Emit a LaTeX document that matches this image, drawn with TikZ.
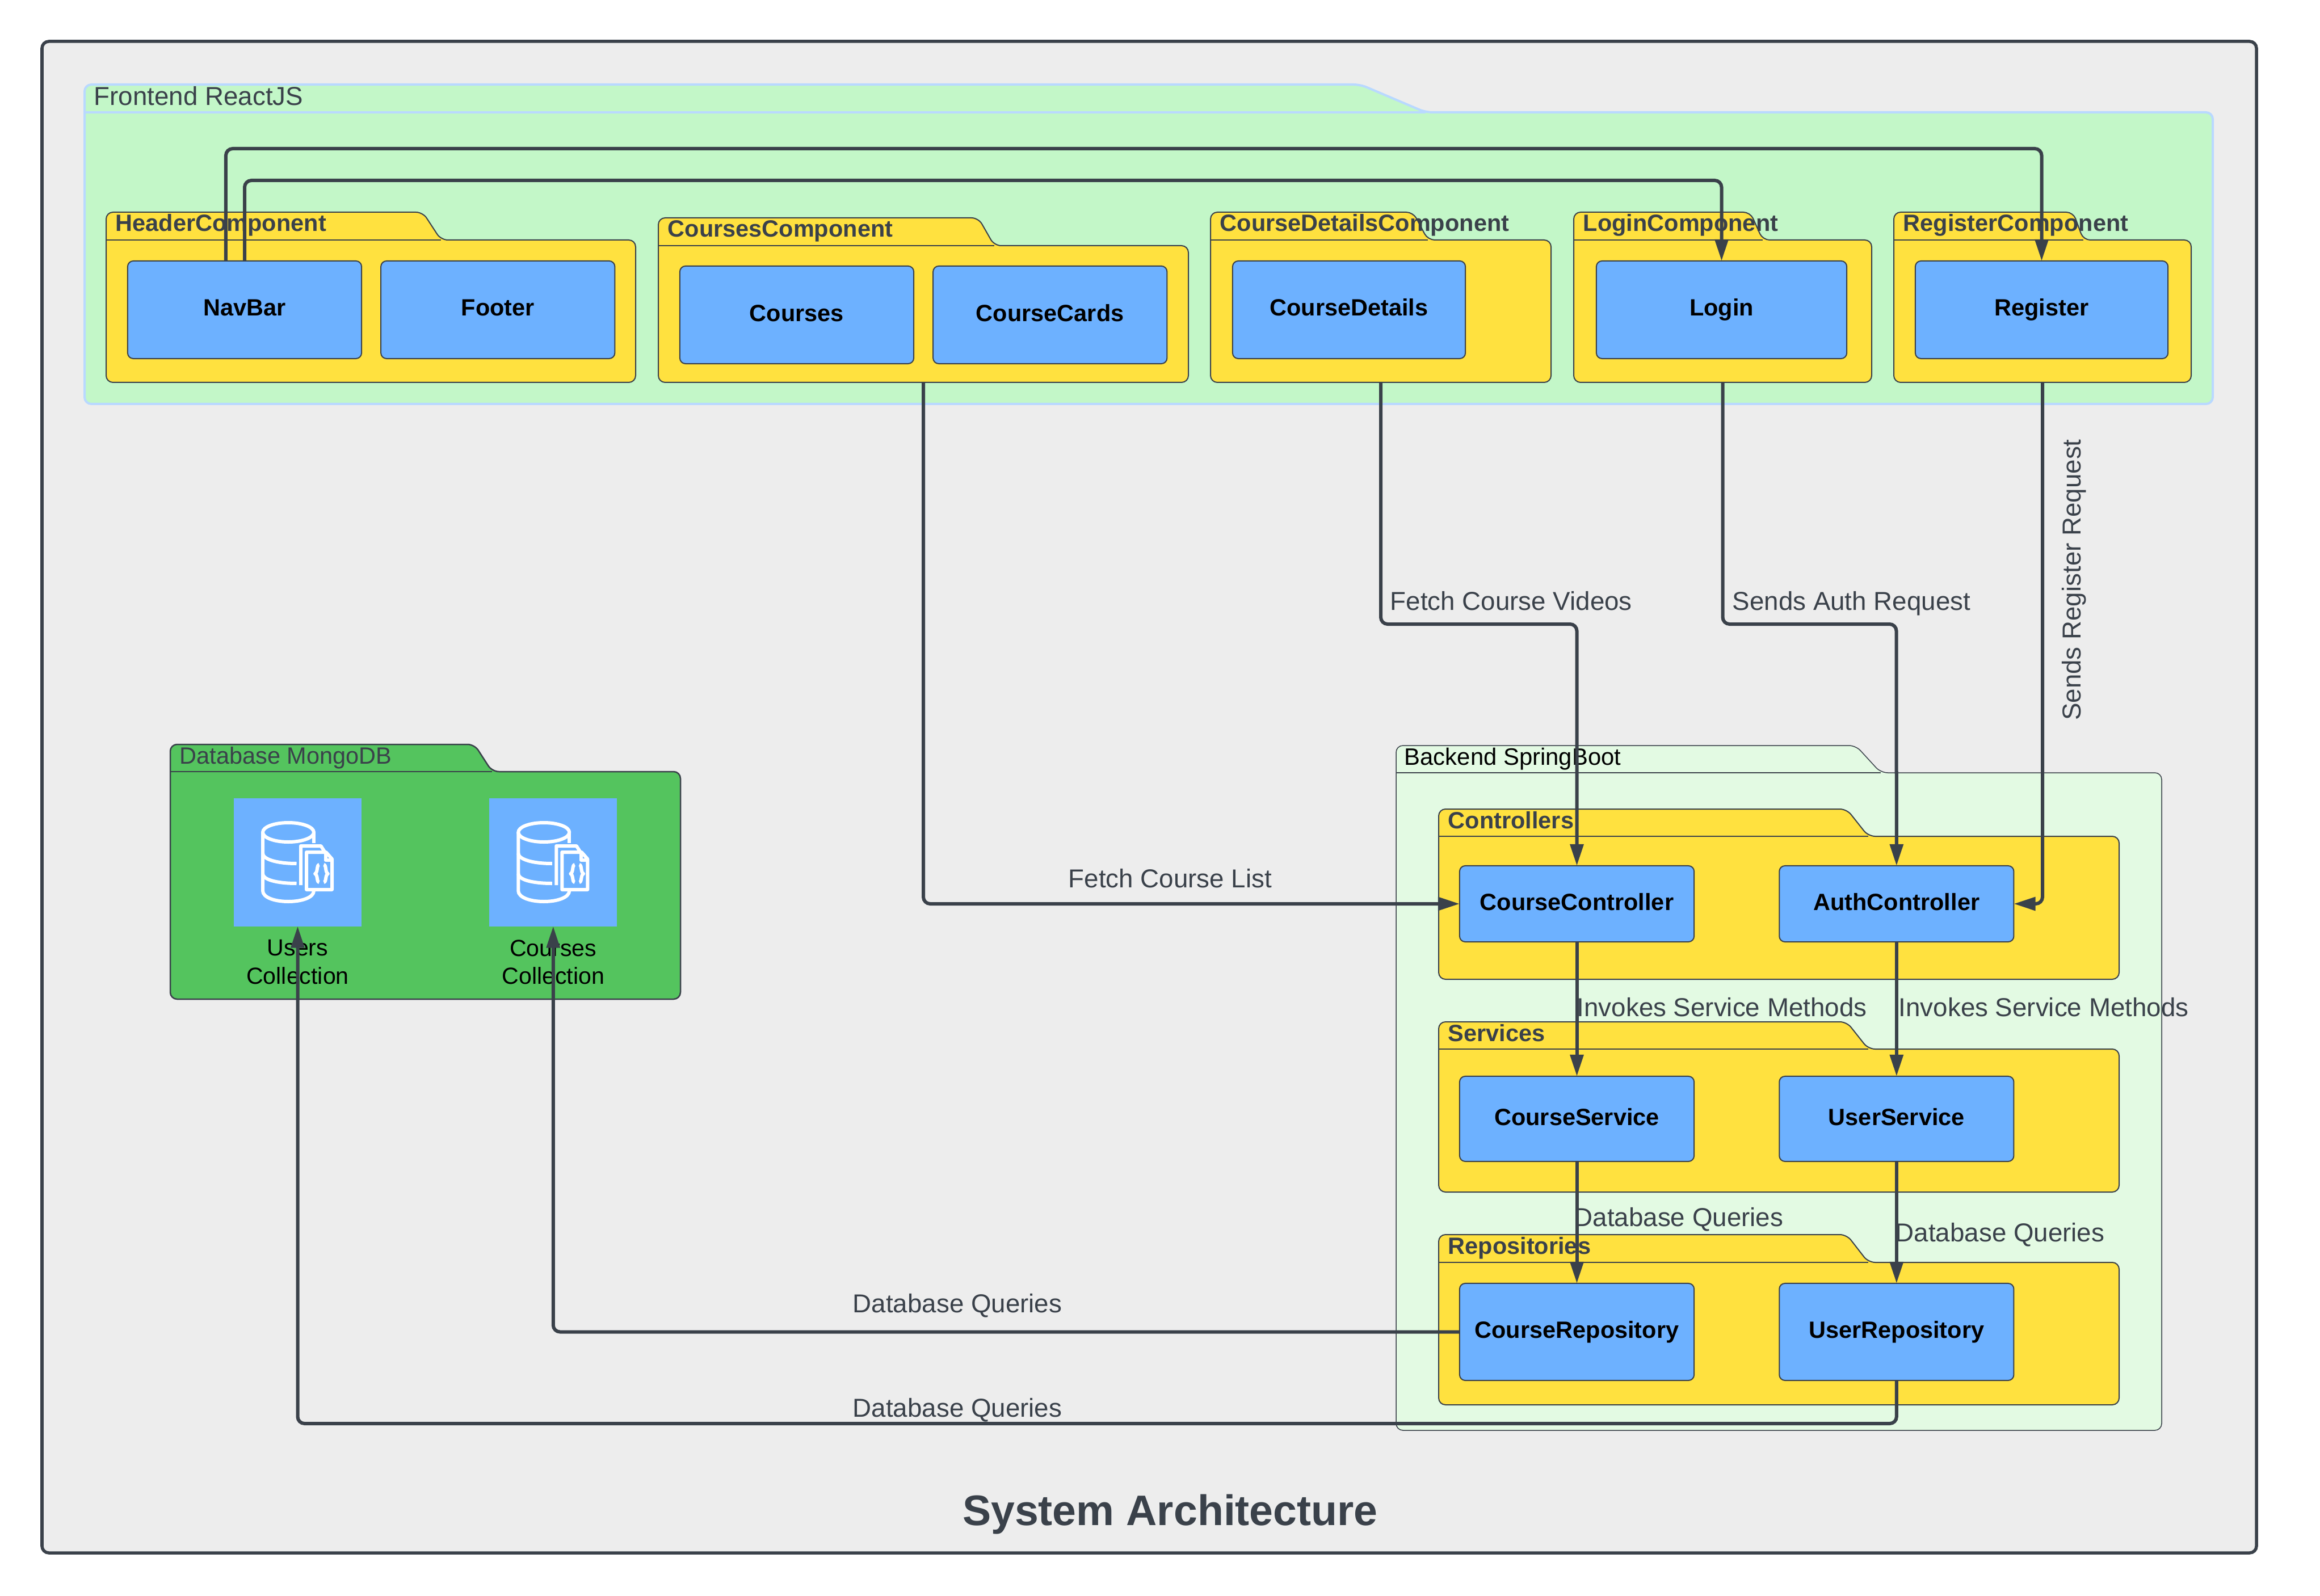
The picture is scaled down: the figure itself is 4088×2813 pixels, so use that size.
\documentclass[tikz,border=0pt]{standalone}
\usepackage{xcolor}
\usepackage{fontspec}
\setmainfont{Liberation Sans}
\usepackage{tikz}
\usetikzlibrary{positioning,arrows.meta,fit}
\definecolor{inkc}{HTML}{3A414A}
\definecolor{pagec}{HTML}{EDEDED}
\definecolor{boxc}{HTML}{6DB1FF}
\definecolor{yelc}{HTML}{FFE13F}
\definecolor{frontc}{HTML}{C3F7C8}
\definecolor{frontl}{HTML}{B9D9FF}
\definecolor{backc}{HTML}{E3FAE3}
\definecolor{dbc}{HTML}{54C45E}
% name, style, left, top, shoulder, right, bottom, tab top end, tab foot
\newcommand{\folder}[9]{%
  \draw[#2,rounded corners=0.12cm] (#3,#5) -- (#3,#4) -- (#8,#4) -- (#9,#5)
     -- (#6,#5) -- (#6,#7) -- (#3,#7) -- cycle;
  \draw[#2,fill=none] (#3,#5) -- (#9,#5);
  \node[fit={(#3,#5)(#6,#7)},inner sep=0pt] (#1) {};
  \coordinate (#1-label) at (#3+16,#4+34);
}
\begin{document}
\begin{tikzpicture}[x=0.01cm,y=-0.01cm,
                    subpkg/.style={draw=inkc,fill=yelc,line width=0.02cm},
                    bigpkg/.style={draw=frontl,fill=frontc,line width=0.04cm},
                    backpkg/.style={draw=inkc,fill=backc,line width=0.015cm},
                    dbpkg/.style={draw=inkc,fill=dbc,line width=0.025cm},
                    sublabel/.style={anchor=base west,inner sep=0pt,text=inkc,
                                     font=\bfseries\fontsize{11.8pt}{14pt}\selectfont},
                    pkglabel/.style={anchor=base west,inner sep=0pt,text=inkc},
                    box/.style={draw=inkc,fill=boxc,line width=0.02cm,rounded corners=0.1cm,
                                minimum width=4.12cm,minimum height=1.72cm,inner sep=0pt,outer sep=0pt,
                                text height=0.31cm,text depth=0.09cm,
                                font=\bfseries\fontsize{11.8pt}{14pt}\selectfont},
                    iconbox/.style={fill=boxc,minimum width=2.25cm,minimum height=2.25cm,inner sep=0pt,outer sep=0pt},
                    iconlabel/.style={align=center,inner sep=0pt,
                                      font=\fontsize{11.7pt}{14.2pt}\selectfont},
                    conn/.style={-{Triangle[length=0.38cm,width=0.23cm]},draw=inkc,fill=none,
                                 line width=0.06cm,rounded corners=0.12cm},
                    edgelabel/.style={inner sep=0pt,text=inkc,text height=0.34cm,text depth=0.1cm,
                                      font=\fontsize{13pt}{16pt}\selectfont},
                    dbicon/.pic={
                      \begin{scope}[draw=white,line width=0.06cm,line join=round]
                        \draw (-16.5,-53) ellipse [x radius=45,y radius=17];
                        \draw (28.5,-53) -- (28.5,-34);
                        \draw (-61.5,-53) -- (-61.5,50) .. controls (-61.5,62) and (-40,69) .. (-16.5,69)
                              .. controls (7,69) and (28.5,62) .. (28.5,50);
                        \draw (-61.5,-16) .. controls (-61.5,-6) and (-38,2) .. (-2,2);
                        \draw (-61.5,20) .. controls (-61.5,30) and (-38,37) .. (-2,37);
                        \draw (5.5,40) -- (5.5,-29) -- (41,-29) -- (48,-18);
                        \draw (15.5,-18) -- (50,-18) -- (60.5,-6) -- (60.5,48) -- (15.5,48) -- cycle;
                        \draw (49,-18) -- (49,-4) -- (60.5,-4);
                        \draw (38,4) .. controls (33,4) and (36,18) .. (30.5,20) .. controls (36,22) and (33,35) .. (38,35);
                        \draw (46,4) .. controls (51,4) and (48,18) .. (53.5,20) .. controls (48,22) and (51,35) .. (46,35);
                      \end{scope}
                    }]

  \useasboundingbox (0,0) rectangle (4088,2813);
  \draw[draw=inkc,fill=pagec,line width=0.055cm,rounded corners=0.12cm] (74,73) rectangle (3976,2737);

  % frontend
  \folder{frontend}{bigpkg}{149}{149}{198}{3899}{712}{2397}{2512}
  \node[pkglabel,font=\fontsize{13pt}{15pt}\selectfont] (frontendlabel) at ([yshift=-0.03cm]frontend-label) {Frontend ReactJS};
  \folder{headercomp}{subpkg}{187}{374}{423}{1120}{674}{745}{777}
  \node[sublabel] (headerlabel) at (headercomp-label) {HeaderComponent};
  \folder{coursescomp}{subpkg}{1160}{384}{433}{2094}{674}{1724}{1752}
  \node[sublabel] (courseslabel) at (coursescomp-label) {CoursesComponent};
  \folder{detailscomp}{subpkg}{2133}{374}{423}{2733}{674}{2490}{2516}
  \node[sublabel] (detailslabel) at (detailscomp-label) {CourseDetailsComponent};
  \folder{logincomp}{subpkg}{2773}{374}{423}{3298}{674}{3084}{3106}
  \node[sublabel] (loginlabel) at (logincomp-label) {LoginComponent};
  \folder{registercomp}{subpkg}{3337}{374}{423}{3861}{674}{3653}{3671}
  \node[sublabel] (registerlabel) at (registercomp-label) {RegisterComponent};

  \node[box] (navbar) at (431,546) {NavBar};
  \node[box,right=0.34cm of navbar] (footer) {Footer};
  \node[box] (courses) at (1404,555) {Courses};
  \node[box,right=0.34cm of courses] (coursecards) {CourseCards};
  \node[box,minimum width=4.1cm] (coursedetails) at (2377,546) {CourseDetails};
  \node[box,minimum width=4.41cm] (login) at (3033.5,546) {Login};
  \node[box,minimum width=4.45cm] (register) at (3597.5,546) {Register};

  % database
  \folder{database}{dbpkg}{300}{1312}{1360}{1199}{1761}{836}{867}
  \node[pkglabel,font=\fontsize{11.8pt}{14pt}\selectfont] (databaselabel) at (database-label) {Database MongoDB};
  \node[iconbox] (userscoll) at (524.5,1520) {};
  \node[iconbox,right=2.25cm of userscoll] (coursescoll) {};
  \pic at (userscoll) {dbicon};
  \pic at (coursescoll) {dbicon};
  \node[iconlabel,below=0.23cm of userscoll] (userslabel) {Users\\Collection};
  \node[iconlabel,below=0.23cm of coursescoll] (coursecolllabel) {Courses\\Collection};

  % backend
  \folder{backend}{backpkg}{2460}{1314}{1362}{3809}{2521}{3270}{3314}
  \node[pkglabel,text=black,font=\fontsize{11.9pt}{14pt}\selectfont] (backendlabel) at ([xshift=-0.02cm]backend-label) {Backend SpringBoot};
  \folder{controllers}{subpkg}{2535}{1426}{1474}{3734}{1726}{3254}{3292}
  \node[sublabel] (controllerslabel) at (controllers-label) {Controllers};
  \folder{services}{subpkg}{2535}{1801}{1849}{3734}{2101}{3254}{3292}
  \node[sublabel] (serviceslabel) at (services-label) {Services};
  \folder{repositories}{subpkg}{2535}{2176}{2225}{3734}{2476}{3254}{3292}
  \node[sublabel] (repositorieslabel) at (repositories-label) {Repositories};

  \node[box,minimum width=4.13cm,minimum height=1.34cm] (coursecontroller) at (2778.5,1593) {CourseController};
  \node[box,minimum width=4.13cm,minimum height=1.34cm,right=1.5cm of coursecontroller] (authcontroller) {AuthController};
  \node[box,minimum width=4.13cm,minimum height=1.5cm] (courseservice) at (2778.5,1972) {CourseService};
  \node[box,minimum width=4.13cm,minimum height=1.5cm,right=1.5cm of courseservice] (userservice) {UserService};
  \node[box,minimum width=4.13cm,minimum height=1.71cm] (courserepo) at (2778.5,2347.5) {CourseRepository};
  \node[box,minimum width=4.13cm,minimum height=1.71cm,right=1.5cm of courserepo] (userrepo) {UserRepository};

  \coordinate (regbend) at (3597.5,262);
  \coordinate (loginbend) at (3033.5,318);
  \coordinate (videobend) at (2778.5,1100);
  \coordinate (authbend) at (3341.5,1100);
  \coordinate (usersbend) at (524.5,2509);

  \draw[conn] ([xshift=-0.33cm]navbar.north) |- (regbend) -- (register.north);
  \draw[conn] (navbar.north) |- (loginbend) -- (login.north);
  \draw[conn] (coursescomp.south) |- (coursecontroller.west);
  \draw[conn] (detailscomp.south) |- (videobend) -- (coursecontroller.north);
  \draw[conn] (logincomp.south) |- (authbend) -- (authcontroller.north);
  \draw[conn] (registercomp.south) |- (authcontroller.east);
  \draw[conn] (coursecontroller.south) -- (courseservice.north);
  \draw[conn] (authcontroller.south) -- (userservice.north);
  \draw[conn] (courseservice.south) -- (courserepo.north);
  \draw[conn] (userservice.south) -- (userrepo.north);
  \draw[conn] (courserepo.west) -| (coursescoll.south);
  \draw[conn] (userrepo.south) |- (usersbend) -- (userscoll.south);

  \node[edgelabel,anchor=center] (fetchlist) at (2062,1552) {Fetch Course List};
  \node[edgelabel,anchor=west] (fetchvideos) at (2449,1063) {Fetch Course Videos};
  \node[edgelabel,anchor=west] (sendsauth) at (3052,1063) {Sends Auth Request};
  \node[edgelabel,anchor=center,rotate=90] (sendsregister) at (3654,1022) {Sends Register Request};
  \node[edgelabel,anchor=west] (invokesone) at (2778,1779) {Invokes Service Methods};
  \node[edgelabel,anchor=west] (invokestwo) at (3345,1779) {Invokes Service Methods};
  \node[edgelabel,anchor=west] (queryone) at (2773,2149) {Database Queries};
  \node[edgelabel,anchor=west] (querytwo) at (3339,2176) {Database Queries};
  \node[edgelabel,anchor=center] (querythree) at (1687,2301) {Database Queries};
  \node[edgelabel,anchor=center] (queryfour) at (1687,2485) {Database Queries};

  \node[text=inkc,inner sep=0pt,font=\bfseries\fontsize{21.4pt}{25pt}\selectfont] (title) at (2062,2669) {System Architecture};
\end{tikzpicture}
\end{document}
